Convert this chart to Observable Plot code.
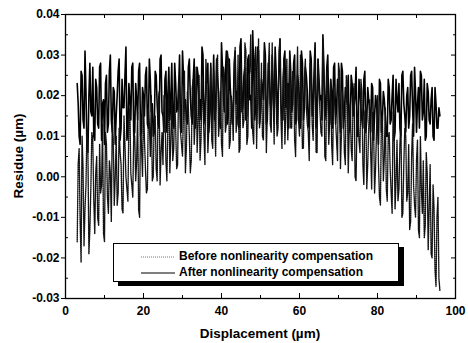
<!DOCTYPE html>
<html><head><meta charset="utf-8">
<script src="https://cdn.jsdelivr.net/npm/d3@7"></script>
<script src="https://cdn.jsdelivr.net/npm/@observablehq/plot@0.6"></script>
<style>
body{margin:0;background:#fff;}
#wrap{position:relative;width:468px;height:343px;font-family:"Liberation Sans",Arial,sans-serif;color:#000;}
#wrap svg{position:absolute;left:0;top:0;}
.legend{position:absolute;left:113px;top:243px;width:284px;height:37px;border:1px solid #000;background:#fff;box-shadow:5px 4px 0 #000;font-weight:bold;font-size:12px;}
.item{position:absolute;left:27px;height:14px;line-height:14px;white-space:nowrap;}
.item svg{position:static !important;vertical-align:middle;margin-right:4px;}
.ytitle{position:absolute;left:18px;top:156px;transform:translate(-50%,-50%) rotate(-90deg);font-weight:bold;font-size:13.5px;white-space:nowrap;}
.xtitle{position:absolute;left:260px;top:333px;transform:translate(-50%,-50%);font-weight:bold;font-size:13.5px;white-space:nowrap;}
</style></head>
<body><div id="wrap"></div>
<script>
// Residue values in units of 0.001 µm.
// "...Whole" arrays: samples at 3, 3.5, 4, ... 96 µm; "...Half" arrays: samples at 3.25, 3.75, ... 95.75 µm
const xStart = 3, xStep = 0.5, xHalfOffset = 0.25;
const afterWhole = [
23,10,26,14,31,7,20,16,27,9,
22,12,28,18,8,25,13,30,11,21,
15,26,9,24,17,32,12,19,27,10,
23,14,28,11,20,25,13,29,16,10,
26,18,12,30,15,24,11,27,19,13,
28,16,22,12,31,18,14,27,20,13,
29,15,25,19,32,13,22,28,16,12,
30,17,24,14,33,19,26,13,29,18,
15,31,21,12,34,17,27,15,30,20,
36,14,25,31,16,22,33,13,28,18,
30,15,26,20,34,14,29,17,23,31,
16,28,13,25,19,31,14,27,21,12,
29,18,33,15,24,20,35,14,27,16,
24,12,28,17,22,11,26,15,20,25,
12,23,17,27,10,21,14,24,11,22,
16,23,9,20,13,24,11,21,15,10,
22,14,25,11,19,23,10,26,15,20,
12,25,17,27,11,22,26,14,24,10,
21,13,22,9,18,12,15];
const afterHalf = [
18,8,25,12,21,6,28,15,10,24,
13,27,9,19,23,11,26,14,22,8,
20,29,12,17,25,9,23,14,28,11,
19,26,10,22,15,27,12,24,18,11,
25,13,29,16,11,26,20,14,28,12,
23,17,30,11,25,19,13,29,15,24,
12,27,18,14,30,16,24,11,28,19,
14,29,21,12,27,16,31,15,22,13,
28,18,13,32,16,25,14,29,19,12,
27,17,32,13,24,19,30,14,26,16,
21,32,13,27,18,14,31,20,12,26,
18,30,14,23,12,28,17,25,13,31,
15,26,12,29,19,14,27,17,30,13,
21,27,13,24,16,28,12,22,18,11,
25,15,20,10,24,17,12,26,14,19,
11,22,15,18,8,23,14,19,10,24,
13,20,9,24,16,12,25,18,11,22,
15,26,10,21,18,12,25,16,9,23,
14,19,10,22,12,17];
const beforeWhole = [
-16,7,-21,2,-8,12,-19,-3,9,-14,
5,-12,-4,13,-16,8,-9,1,14,-7,
10,-4,6,-8,15,0,-6,17,-2,11,
-1,16,-10,7,19,2,-3,13,20,0,
15,-1,21,6,3,18,-1,23,9,4,
20,2,24,11,5,26,7,17,1,22,
8,27,13,4,24,10,29,6,19,9,
26,5,30,14,8,27,11,31,7,20,
9,32,15,6,28,12,33,8,24,35,
11,29,7,34,16,10,31,6,26,13,
33,8,22,12,34,7,28,15,9,30,
12,25,5,32,10,19,7,29,13,4,
27,9,31,6,22,11,34,5,26,8,
24,3,19,9,28,2,21,6,25,1,
18,4,23,-1,15,6,21,-2,17,3,
19,-3,12,2,20,-5,14,-1,17,-6,
11,-4,16,-8,9,-3,14,-9,12,-6,
8,-11,13,-7,4,-13,10,-9,-15,6,
-18,3,-20,-8,-27,-5,-28];
const beforeHalf = [
3,-11,10,-17,-2,6,-13,11,-6,1,
-10,8,-2,-14,11,-5,4,-11,9,0,
-7,12,3,-9,8,-3,14,1,-5,10,
4,-8,15,0,9,-4,17,5,-1,14,
2,18,-2,11,20,4,13,1,19,7,
12,3,22,8,16,1,21,10,4,24,
14,6,25,9,18,3,23,12,27,7,
16,28,10,21,5,25,13,29,9,18,
24,11,30,7,20,14,31,10,26,17,
8,32,19,12,28,9,24,15,33,11,
20,27,10,31,14,24,8,29,18,12,
26,9,21,14,30,7,24,17,11,28,
13,22,6,29,16,10,25,4,20,14,
8,22,14,4,26,10,17,3,23,11,
7,20,0,14,9,24,3,16,-3,12,
6,16,-4,11,3,-7,15,5,-3,10,
2,-9,13,-1,-6,8,-10,3,10,-4,
-13,5,-2,-10,9,-15,-3,4,-12,1,
-8,-19,-2,-23,-10,-25];
const seriesNames = ["Before nonlinearity compensation", "After nonlinearity compensation"];
const xTicks = [0, 20, 40, 60, 80, 100];
const xMinor = [10, 30, 50, 70, 90];
const yTicks = [-30, -20, -10, 0, 10, 20, 30, 40];
const yMinor = [-25, -15, -5, 5, 15, 25, 35];

const rows = (whole, half) => d3.sort([
  ...whole.map((v, i) => ({x: xStart + i * xStep, y: v})),
  ...half.map((v, i) => ({x: xStart + xHalfOffset + i * xStep, y: v}))
], d => d.x);
const afterRows = rows(afterWhole, afterHalf), beforeRows = rows(beforeWhole, beforeHalf);

const chart = Plot.plot({
  width: 468, height: 343,
  marginLeft: 65, marginRight: 13, marginTop: 14, marginBottom: 45,
  x: {domain: [0, 100]},
  y: {domain: [-30, 40]},
  style: {fontFamily: '"Liberation Sans", Arial, sans-serif', fontSize: "12px", fontWeight: "bold", background: "#fff", color: "#000"},
  marks: [
    Plot.line(afterRows, {x: "x", y: "y", stroke: "#000", strokeWidth: 1.6}),
    Plot.line(beforeRows, {x: "x", y: "y", stroke: "#111", strokeWidth: 1.4, strokeDasharray: "1,1"}),
    Plot.frame({stroke: "#000", strokeWidth: 1.3}),
    Plot.axisX({anchor: "bottom", ticks: xTicks, tickSize: 0, tickPadding: 8, tickFormat: d => String(d), label: null}),
    Plot.axisX({anchor: "bottom", ticks: xTicks, tickSize: -5, fill: "none", label: null}),
    Plot.axisX({anchor: "bottom", ticks: xMinor, tickSize: -3, fill: "none", label: null}),
    Plot.axisX({anchor: "top", ticks: xTicks, tickSize: -5, fill: "none", label: null}),
    Plot.axisX({anchor: "top", ticks: xMinor, tickSize: -3, fill: "none", label: null}),
    Plot.axisY({anchor: "left", ticks: yTicks, tickSize: 4, tickPadding: 2, tickFormat: d => (d / 1000).toFixed(2), label: null}),
    Plot.axisY({anchor: "left", ticks: yMinor, tickSize: -3, fill: "none", label: null}),
    Plot.axisY({anchor: "right", ticks: yTicks, tickSize: -5, fill: "none", label: null}),
    Plot.axisY({anchor: "right", ticks: yMinor, tickSize: -3, fill: "none", label: null})
  ]
});
const wrap = document.getElementById("wrap");
wrap.appendChild(chart);

const yt = document.createElement("div"); yt.className = "ytitle"; yt.textContent = "Residue (\u00b5m)"; wrap.appendChild(yt);
const xt = document.createElement("div"); xt.className = "xtitle"; xt.textContent = "Displacement (\u00b5m)"; wrap.appendChild(xt);

const lg = document.createElement("div"); lg.className = "legend";
const styles = [{stroke: "#777", dash: "1,1"}, {stroke: "#000", dash: null}];
seriesNames.forEach((name, i) => {
  const it = document.createElement("div"); it.className = "item"; it.style.top = (5 + i * 16) + "px";
  it.innerHTML = `<svg width="34" height="6"><line x1="0" y1="3" x2="34" y2="3" stroke="${styles[i].stroke}" stroke-width="1" ${styles[i].dash ? `stroke-dasharray="${styles[i].dash}"` : ""}/></svg>`;
  it.appendChild(document.createTextNode(name));
  lg.appendChild(it);
});
wrap.appendChild(lg);
</script></body></html>
